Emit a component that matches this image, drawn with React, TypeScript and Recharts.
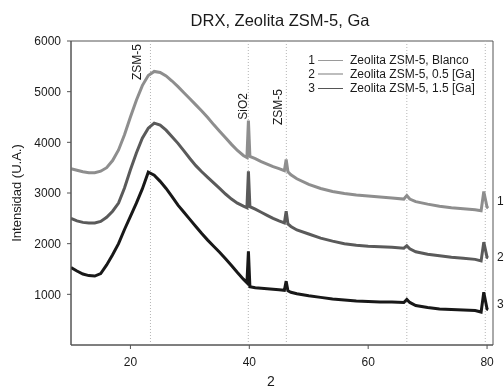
import React from 'react';
import { LineChart, Line, XAxis, YAxis, ReferenceLine, ReferenceArea, ReferenceDot, Label } from 'recharts';

const twoTheta = [10, 11, 12, 13, 14, 15, 16, 17, 18, 19, 20, 21, 22, 23, 24, 25, 26, 27, 28, 29, 30, 31, 32, 33, 34, 35, 36, 37, 38, 39, 39.6, 39.85, 40.1, 41, 42, 43, 44, 45, 45.9, 46.2, 46.5, 47, 48, 50, 52, 54, 56, 58, 60, 62, 64, 66, 66.5, 67, 68, 70, 72, 74, 76, 78, 79, 79.45, 80, 80.2];

const blanco = [3480, 3450, 3420, 3400, 3400, 3430, 3500, 3640, 3850, 4150, 4500, 4830, 5120, 5320, 5400, 5380, 5310, 5210, 5100, 4980, 4860, 4740, 4620, 4490, 4350, 4220, 4090, 3960, 3840, 3740, 3700, 4430, 3720, 3680, 3620, 3570, 3520, 3480, 3440, 3660, 3420, 3360, 3280, 3170, 3090, 3030, 2990, 2960, 2940, 2920, 2900, 2880, 2950, 2880, 2830, 2780, 2740, 2710, 2690, 2670, 2650, 3030, 2720, 2700];

const ga05 = [2500, 2450, 2420, 2410, 2410, 2440, 2520, 2640, 2800, 3100, 3460, 3790, 4080, 4280, 4380, 4340, 4240, 4110, 3980, 3830, 3680, 3540, 3420, 3310, 3200, 3090, 2980, 2880, 2800, 2740, 2710, 3430, 2730, 2680, 2620, 2560, 2500, 2450, 2410, 2640, 2390, 2340, 2270, 2190, 2110, 2050, 2000, 1970, 1950, 1940, 1930, 1910, 1960, 1900, 1840, 1790, 1760, 1730, 1710, 1690, 1660, 2030, 1730, 1720];

const ga15 = [1530, 1460, 1400, 1370, 1360, 1410, 1580, 1780, 2000, 2280, 2540, 2800, 3080, 3410, 3350, 3230, 3090, 2930, 2760, 2620, 2480, 2340, 2200, 2070, 1950, 1830, 1700, 1570, 1430, 1300, 1230, 1850, 1150, 1130, 1120, 1110, 1100, 1090, 1080, 1260, 1070, 1040, 1010, 970, 940, 910, 890, 870, 860, 850, 850, 840, 900, 840, 780, 740, 710, 700, 690, 680, 650, 1040, 710, 700];

const seriesIds = ['1', '2', '3'];
const seriesNames = ['Zeolita ZSM-5, Blanco', 'Zeolita ZSM-5, 0.5 [Ga]', 'Zeolita ZSM-5, 1.5 [Ga]'];
const seriesColors = ['#8e8e8e', '#5a5a5a', '#181818'];
const legendColors = ['#9a9a9a', '#bdbdbd', '#555555'];
const endLevels = [2840, 1750, 810];

const peakPositions = [23.37, 39.83, 46.23, 66.5, 79.7];
const peakLabels = ['ZSM-5', 'SiO2', 'ZSM-5', '', ''];
const peakLabelDrop = [3, 52, 48, 0, 0];
const peakLabelShift = [-9.5, -1.5, -4.5, 0, 0];

const xTicks = [20, 40, 60, 80];
const yTicks = [1000, 2000, 3000, 4000, 5000, 6000];

const data = twoTheta.map((x, i) => ({ x, s1: blanco[i], s2: ga05[i], s3: ga15[i] }));
const keys = ['s1', 's2', 's3'];

const FONT = '"Liberation Sans", Arial, sans-serif';

function PeakLabel(props: any) {
  const { viewBox, text, drop, shift } = props;
  if (!text || !viewBox) return null;
  const x = viewBox.x + shift;
  const y = viewBox.y + drop;
  return (
    <text x={x} y={y} transform={`rotate(-90, ${x}, ${y})`} textAnchor="end" fontSize={12} fill="#1a1a1a" fontFamily={FONT}>
      {text}
    </text>
  );
}

function YTitle(props: any) {
  const { viewBox } = props;
  const x = viewBox.x + 21;
  const y = viewBox.y + viewBox.height / 2;
  return (
    <text x={x} y={y} transform={`rotate(-90, ${x}, ${y})`} textAnchor="middle" fontSize={13} fill="#1a1a1a" fontFamily={FONT}>
      Intensidad (U.A.)
    </text>
  );
}

export default function App() {
  return (
    <div style={{ position: 'fixed', left: 0, top: 0, width: 504, height: 389, background: '#fff', fontFamily: FONT }}>
      <div style={{ position: 'absolute', left: 0, top: 10, width: 560, textAlign: 'center', fontSize: 16.5, lineHeight: '20px', color: '#1a1a1a' }}>
        DRX, Zeolita ZSM-5, Ga
      </div>
      <LineChart width={504} height={389} data={data} margin={{ top: 41, right: 11, left: 0, bottom: 0 }} style={{ fontFamily: FONT }}>
        <ReferenceArea x1={10} x2={81} y1={0} y2={6000} fill="none" stroke="#555" strokeWidth={1} ifOverflow="visible" />
        {peakPositions.map((p, i) => (
          <ReferenceLine key={`pk${i}`} x={p} stroke="#b5b5b5" strokeDasharray="1 2" strokeWidth={1}
            label={(lp: any) => <PeakLabel {...lp} text={peakLabels[i]} drop={peakLabelDrop[i]} shift={peakLabelShift[i]} />} />
        ))}
        <XAxis dataKey="x" type="number" domain={[10, 81]} ticks={xTicks} allowDataOverflow
          tickSize={4} tickMargin={8} height={44} stroke="#555" tick={{ fill: '#1a1a1a', fontSize: 12 }}>
          <Label value="2" position="insideBottom" offset={3} dx={-11} fontSize={14} fill="#1a1a1a" />
        </XAxis>
        <YAxis type="number" domain={[0, 6000]} ticks={yTicks} width={71} tickSize={4} tickMargin={6}
          stroke="#555" tick={{ fill: '#1a1a1a', fontSize: 12 }} label={(lp: any) => <YTitle {...lp} />} />
        {keys.map((k, i) => (
          <Line key={k} dataKey={k} type="linear" stroke={seriesColors[i]} strokeWidth={3} dot={false} isAnimationActive={false} />
        ))}
        {endLevels.map((lv, i) => (
          <ReferenceDot key={`end${i}`} x={81} y={lv} r={0} stroke="none" fill="none" ifOverflow="visible"
            label={{ value: seriesIds[i], position: 'right', offset: 4, fontSize: 12, fill: '#1a1a1a' }} />
        ))}
      </LineChart>
      <div style={{ position: 'absolute', left: 305, top: 53, fontSize: 12, lineHeight: '14px', color: '#1a1a1a' }}>
        {seriesNames.map((n, i) => (
          <div key={n} style={{ display: 'flex', alignItems: 'center', height: 14, whiteSpace: 'nowrap' }}>
            <span style={{ width: 10, textAlign: 'right' }}>{seriesIds[i]}</span>
            <span style={{ display: 'inline-block', width: 25, height: i === 1 ? 2 : 1, background: legendColors[i], marginLeft: 3, marginRight: 7 }} />
            <span>{n}</span>
          </div>
        ))}
      </div>
    </div>
  );
}
